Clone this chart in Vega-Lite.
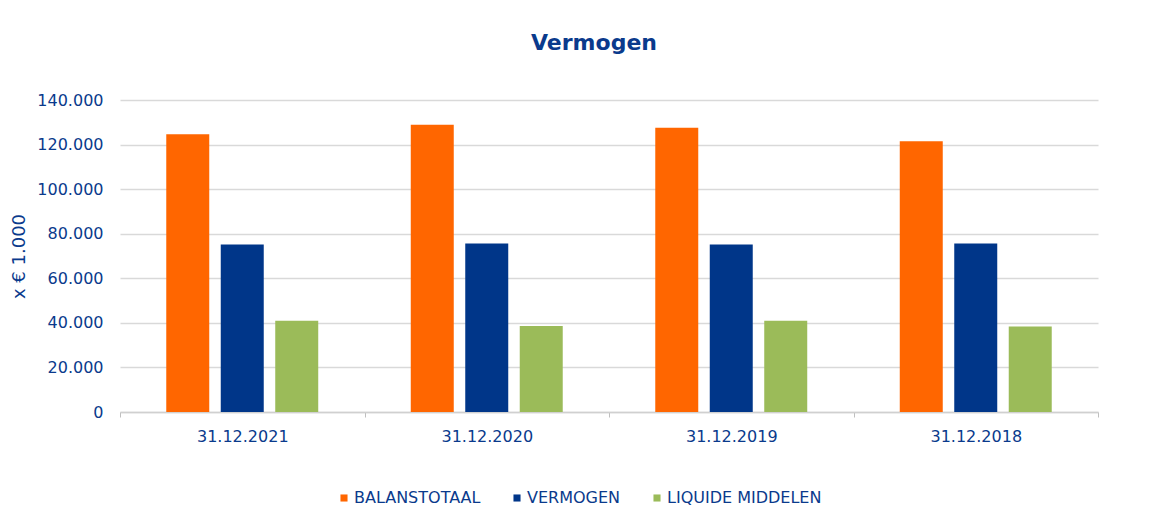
{
  "$schema": "https://vega.github.io/schema/vega-lite/v6.json",
  "width": 978,
  "height": 312,
  "autosize": {"type": "none"},
  "padding": {"left": 120, "top": 100, "right": 76, "bottom": 108},
  "background": "white",
  "title": {
    "text": "Vermogen",
    "font": "DejaVu Sans",
    "fontSize": 22,
    "fontWeight": "bold",
    "color": "#0A3A8C",
    "anchor": "middle",
    "dx": -15,
    "offset": 37
  },
  "data": {
    "values": [
      {"datum": "31.12.2021", "reeks": "BALANSTOTAAL", "waarde": 124600},
      {"datum": "31.12.2021", "reeks": "VERMOGEN", "waarde": 75200},
      {"datum": "31.12.2021", "reeks": "LIQUIDE MIDDELEN", "waarde": 40900},
      {"datum": "31.12.2020", "reeks": "BALANSTOTAAL", "waarde": 128900},
      {"datum": "31.12.2020", "reeks": "VERMOGEN", "waarde": 75600},
      {"datum": "31.12.2020", "reeks": "LIQUIDE MIDDELEN", "waarde": 38600},
      {"datum": "31.12.2019", "reeks": "BALANSTOTAAL", "waarde": 127600},
      {"datum": "31.12.2019", "reeks": "VERMOGEN", "waarde": 75200},
      {"datum": "31.12.2019", "reeks": "LIQUIDE MIDDELEN", "waarde": 40900},
      {"datum": "31.12.2018", "reeks": "BALANSTOTAAL", "waarde": 121500},
      {"datum": "31.12.2018", "reeks": "VERMOGEN", "waarde": 75600},
      {"datum": "31.12.2018", "reeks": "LIQUIDE MIDDELEN", "waarde": 38400}
    ]
  },
  "mark": {"type": "bar"},
  "encoding": {
    "x": {
      "field": "datum",
      "type": "nominal",
      "sort": null,
      "scale": {"paddingInner": 0, "paddingOuter": 0},
      "axis": {
        "title": null,
        "labelAngle": 0,
        "labelFont": "DejaVu Sans",
        "labelFontSize": 16,
        "labelColor": "#0A3A8C",
        "labelPadding": 11,
        "tickBand": "extent",
        "tickExtra": true,
        "ticks": true,
        "tickSize": 5,
        "tickColor": "#BFBFBF",
        "domainColor": "#D0D0D0",
        "domainWidth": 1.5,
        "grid": false
      }
    },
    "xOffset": {
      "field": "reeks",
      "type": "nominal",
      "sort": ["BALANSTOTAAL", "VERMOGEN", "LIQUIDE MIDDELEN"],
      "scale": {"paddingInner": 0.211, "paddingOuter": 0.849}
    },
    "y": {
      "field": "waarde",
      "type": "quantitative",
      "scale": {"domain": [0, 140000], "nice": false},
      "axis": {
        "title": "x € 1.000",
        "titleFont": "DejaVu Sans",
        "titleFontSize": 18,
        "titleFontWeight": "normal",
        "titleColor": "#0A3A8C",
        "titlePadding": 8,
        "values": [0, 20000, 40000, 60000, 80000, 100000, 120000, 140000],
        "labelExpr": "replace(format(datum.value, ','), ',', '.')",
        "labelFont": "DejaVu Sans",
        "labelFontSize": 16,
        "labelColor": "#0A3A8C",
        "labelPadding": 17,
        "ticks": false,
        "domain": false,
        "grid": true,
        "gridColor": "#D9D9D9",
        "gridWidth": 1.5
      }
    },
    "color": {
      "field": "reeks",
      "type": "nominal",
      "sort": ["BALANSTOTAAL", "VERMOGEN", "LIQUIDE MIDDELEN"],
      "scale": {
        "domain": ["BALANSTOTAAL", "VERMOGEN", "LIQUIDE MIDDELEN"],
        "range": ["#FF6600", "#003689", "#9BBB59"]
      },
      "legend": {
        "title": null,
        "orient": "none",
        "direction": "horizontal",
        "legendX": 216,
        "legendY": 390,
        "padding": 0,
        "symbolType": "square",
        "symbolSize": 50,
        "symbolStrokeWidth": 0,
        "symbolOpacity": 1,
        "labelFont": "DejaVu Sans",
        "labelFontSize": 16,
        "labelColor": "#0A3A8C",
        "labelOffset": 2,
        "columnPadding": 28
      }
    }
  },
  "config": {"view": {"stroke": null}}
}
